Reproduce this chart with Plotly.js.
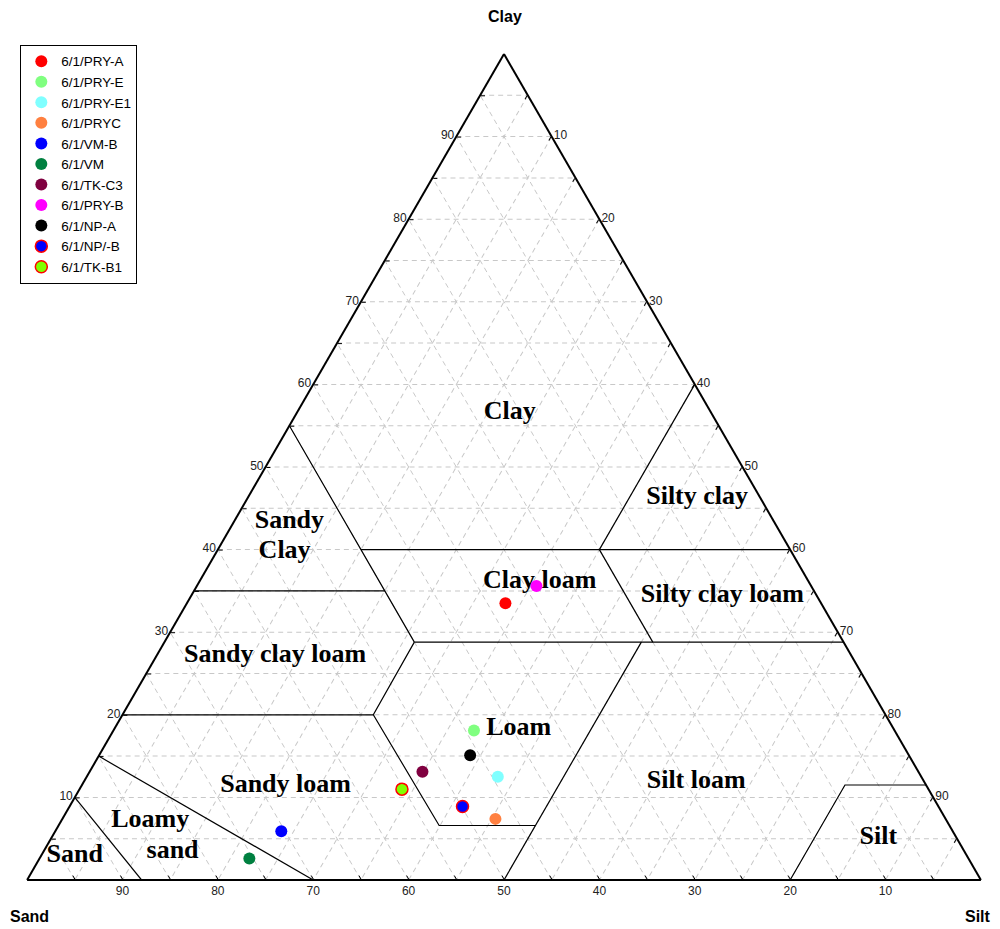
<!DOCTYPE html>
<html>
<head>
<meta charset="utf-8">
<script src="https://cdn.plot.ly/plotly-3.0.1.min.js"></script>
<style>html,body{margin:0;padding:0;background:#fff;}#chart{width:1000px;height:929px;}</style>
</head>
<body>
<div id="chart"></div>
<script>
// ---- Sample data (sand %, silt %, clay %) ----
const sampleNames = ["6/1/PRY-A","6/1/PRY-E","6/1/PRY-E1","6/1/PRYC","6/1/VM-B","6/1/VM","6/1/TK-C3","6/1/PRY-B","6/1/NP-A","6/1/NP/-B","6/1/TK-B1"];
const sampleSand  = [33.1, 44.1, 44.4, 47.2, 70.4, 75.4, 52.0, 28.8, 46.0, 49.9, 55.2];
const sampleSilt  = [33.4, 37.8, 43.1, 45.4, 23.7, 22.0, 34.9, 35.6, 38.9, 41.2, 33.8];
const sampleClay  = [33.5, 18.1, 12.5,  7.4,  5.9,  2.6, 13.1, 35.6, 15.1,  8.9, 11.0];

// ---- Texture class labels ----
const regionNames = ["Clay","Silty clay","Sandy","Clay","Clay loam","Silty clay loam","Sandy clay loam","Loam","Sandy loam","Silt loam","Loamy","sand","Sand","Silt"];
const regionSand  = [21.1,  6.6, 50.8, 53.1, 28.2,  9.9, 60.4, 39.3, 67.2, 23.9, 83.5, 83.0, 93.5,  8.2];
const regionSilt  = [22.3, 47.1,  5.8,  7.1, 35.7, 55.7, 12.4, 42.4, 21.4, 64.2,  9.3, 13.5,  3.5, 86.7];
const regionClay  = [56.6, 46.3, 43.4, 39.8, 36.1, 34.4, 27.2, 18.3, 11.4, 11.9,  7.2,  3.5,  3.0,  5.1];

// ---- Class boundary lines: each point is [sand, silt, clay] ----
const lineSandLoamySand   = [[90,0,10],[88,12,0]];
const lineLoamySandSandyLoam = [[85,0,15],[70,30,0]];
const lineClay20          = [[80,0,20],[53.7,26.3,20]];
const lineLoamLeft        = [[45,26.2,28.8],[53.7,26.3,20],[53.5,39.9,6.6],[43.4,50,6.6]];
const lineClay35          = [[65,0,35],[45,20,35]];
const lineSand45          = [[45,0,55],[45,20,35],[45,26.2,28.8]];
const lineClay288         = [[45,26.2,28.8],[0,71.2,28.8]];
const lineSilt50          = [[50,50,0],[21.2,50,28.8]];
const lineClay40          = [[45,15,40],[0,60,40]];
const lineSand20          = [[20,40,40],[20,51.2,28.8]];
const lineSilt40          = [[20,40,40],[0,40,60]];
const lineSilt            = [[20,80,0],[8.5,80,11.5],[0,88.5,11.5]];

// ---- Axis ticks ----
const gridVals   = [5,10,15,20,25,30,35,40,45,50,55,60,65,70,75,80,85,90,95];
const tickLabels = ["","10","","20","","30","","40","","50","","60","","70","","80","","90",""];
const axisTitles = ["Clay","Sand","Silt"];

const sampleColors = ["#ff0000","#80ff80","#80ffff","#ff8040","#0000ff","#008040","#800040","#ff00ff","#000000","#0000ff","#80ff00"];
const sampleOutline = [null,null,null,null,null,null,null,null,null,"#ff0000","#ff0000"];

const boundaries = [lineSandLoamySand, lineLoamySandSandyLoam, lineClay20, lineLoamLeft, lineClay35,
  lineSand45, lineClay288, lineSilt50, lineClay40, lineSand20, lineSilt40, lineSilt];

const traces = [];
boundaries.forEach(function(seg){
  traces.push({
    type: 'scatterternary', mode: 'lines',
    a: seg.map(p => p[2]), b: seg.map(p => p[0]), c: seg.map(p => p[1]),
    line: {color: '#000', width: 1.2},
    showlegend: false, hoverinfo: 'skip'
  });
});

traces.push({
  type: 'scatterternary', mode: 'text',
  a: regionClay, b: regionSand, c: regionSilt,
  text: regionNames.map(t => '<b>' + t + '</b>'),
  textposition: 'middle center',
  textfont: {family: 'Liberation Serif, Times New Roman, serif', size: 26, color: '#000'},
  showlegend: false, hoverinfo: 'skip'
});

sampleNames.forEach(function(n, i){
  traces.push({
    type: 'scatterternary', mode: 'markers', name: n,
    a: [sampleClay[i]], b: [sampleSand[i]], c: [sampleSilt[i]],
    marker: {size: 12, color: sampleColors[i],
      line: sampleOutline[i] ? {color: sampleOutline[i], width: 1.5} : {width: 0}}
  });
});

function axis(){
  return {
    title: {text: ''},
    tickmode: 'array', tickvals: gridVals, ticktext: tickLabels,
    ticks: 'inside', ticklen: 4, tickcolor: '#000', tickwidth: 1,
    tickfont: {family: 'Liberation Sans, Arial, sans-serif', size: 12, color: '#222'},
    showline: true, linecolor: '#000', linewidth: 2,
    showgrid: true, gridcolor: '#c8c8c8', gridwidth: 1, griddash: '5px,4px'
  };
}

const titleFont = {family: 'Liberation Sans, Arial, sans-serif', size: 16, color: '#000'};
const layout = {
  width: 1000, height: 929,
  margin: {l: 27, r: 19, t: 54, b: 49},
  paper_bgcolor: '#fff',
  showlegend: true,
  legend: {x: -0.007, y: 1.011, xanchor: 'left', yanchor: 'top',
    bgcolor: '#fff', bordercolor: '#000', borderwidth: 1,
    font: {family: 'Liberation Sans, Arial, sans-serif', size: 13.5, color: '#000'}},
  ternary: {
    sum: 100, bgcolor: '#fff',
    aaxis: axis(), baxis: axis(), caxis: axis()
  },
  annotations: [
    {text: '<b>' + axisTitles[0] + '</b>', xref: 'paper', yref: 'paper', x: 0.501, y: 1.0448, xanchor: 'center', yanchor: 'middle', showarrow: false, font: titleFont},
    {text: '<b>' + axisTitles[1] + '</b>', xref: 'paper', yref: 'paper', x: 0.003, y: -0.0436, xanchor: 'center', yanchor: 'middle', showarrow: false, font: titleFont},
    {text: '<b>' + axisTitles[2] + '</b>', xref: 'paper', yref: 'paper', x: 0.9969, y: -0.0436, xanchor: 'center', yanchor: 'middle', showarrow: false, font: titleFont}
  ]
};

Plotly.newPlot('chart', traces, layout, {displayModeBar: false, staticPlot: true});
</script>
</body>
</html>
